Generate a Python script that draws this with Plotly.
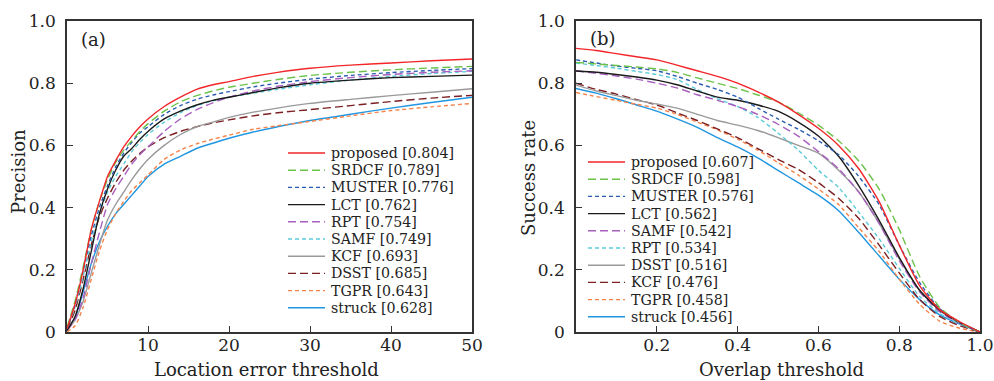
import plotly.graph_objects as go

# ---------------- data: panel (a) precision plot ----------------
x_loc = [0, 1, 2, 3, 4, 5, 6, 7, 8, 9, 10, 12, 14, 16, 18, 20, 23, 26, 30, 35, 40, 45, 50]

names_a = ["proposed", "SRDCF", "MUSTER", "LCT", "RPT", "SAMF", "KCF", "DSST", "TGPR", "struck"]
scores_a = ["0.804", "0.789", "0.776", "0.762", "0.754", "0.749", "0.693", "0.685", "0.643", "0.628"]

prec_proposed = [0.01, 0.09, 0.20, 0.33, 0.42, 0.50, 0.55, 0.595, 0.63, 0.66, 0.685, 0.725, 0.755, 0.78, 0.795, 0.805, 0.822, 0.835, 0.848, 0.858, 0.865, 0.872, 0.878]
prec_srdcf = [0.015, 0.10, 0.21, 0.33, 0.42, 0.49, 0.545, 0.585, 0.615, 0.645, 0.67, 0.71, 0.74, 0.76, 0.775, 0.787, 0.80, 0.812, 0.825, 0.835, 0.843, 0.849, 0.854]
prec_muster = [0.01, 0.09, 0.20, 0.31, 0.40, 0.47, 0.53, 0.575, 0.61, 0.64, 0.66, 0.70, 0.728, 0.748, 0.762, 0.773, 0.788, 0.80, 0.813, 0.825, 0.834, 0.841, 0.847]
prec_lct = [0.005, 0.05, 0.14, 0.26, 0.38, 0.46, 0.52, 0.565, 0.59, 0.62, 0.645, 0.685, 0.71, 0.73, 0.745, 0.755, 0.77, 0.785, 0.80, 0.81, 0.818, 0.822, 0.826]
prec_rpt = [0.005, 0.04, 0.11, 0.22, 0.32, 0.41, 0.46, 0.50, 0.54, 0.57, 0.595, 0.645, 0.685, 0.715, 0.737, 0.755, 0.775, 0.79, 0.805, 0.818, 0.828, 0.835, 0.840]
prec_samf = [0.01, 0.08, 0.18, 0.29, 0.38, 0.45, 0.50, 0.54, 0.58, 0.61, 0.635, 0.675, 0.705, 0.728, 0.743, 0.755, 0.768, 0.78, 0.795, 0.81, 0.822, 0.831, 0.838]
prec_kcf = [0.005, 0.04, 0.10, 0.19, 0.28, 0.36, 0.41, 0.45, 0.49, 0.525, 0.555, 0.60, 0.635, 0.66, 0.675, 0.69, 0.707, 0.72, 0.735, 0.748, 0.76, 0.771, 0.782]
prec_dsst = [0.01, 0.07, 0.17, 0.28, 0.37, 0.43, 0.48, 0.52, 0.55, 0.575, 0.595, 0.625, 0.645, 0.66, 0.672, 0.682, 0.695, 0.705, 0.715, 0.728, 0.741, 0.752, 0.761]
prec_tgpr = [0.0, 0.02, 0.08, 0.17, 0.26, 0.33, 0.38, 0.42, 0.455, 0.48, 0.505, 0.555, 0.585, 0.605, 0.62, 0.633, 0.652, 0.663, 0.677, 0.695, 0.712, 0.724, 0.735]
prec_struck = [0.005, 0.045, 0.13, 0.22, 0.29, 0.34, 0.38, 0.41, 0.44, 0.47, 0.50, 0.54, 0.565, 0.59, 0.607, 0.623, 0.643, 0.66, 0.68, 0.70, 0.72, 0.738, 0.755]

# ---------------- data: panel (b) success plot ----------------
x_ovl = [0.0, 0.05, 0.1, 0.15, 0.2, 0.25, 0.3, 0.35, 0.4, 0.45, 0.5, 0.55, 0.6, 0.65, 0.7, 0.75, 0.8, 0.85, 0.9, 0.95, 1.0]

names_b = ["proposed", "SRDCF", "MUSTER", "LCT", "SAMF", "RPT", "DSST", "KCF", "TGPR", "struck"]
scores_b = ["0.607", "0.598", "0.576", "0.562", "0.542", "0.534", "0.516", "0.476", "0.458", "0.456"]

succ_proposed = [0.912, 0.905, 0.895, 0.885, 0.875, 0.858, 0.84, 0.822, 0.80, 0.772, 0.74, 0.70, 0.655, 0.60, 0.525, 0.42, 0.28, 0.15, 0.072, 0.033, 0.0]
succ_srdcf = [0.867, 0.862, 0.857, 0.852, 0.846, 0.835, 0.817, 0.80, 0.783, 0.762, 0.74, 0.705, 0.665, 0.615, 0.55, 0.46, 0.33, 0.18, 0.08, 0.03, 0.0]
succ_muster = [0.875, 0.865, 0.855, 0.848, 0.84, 0.822, 0.80, 0.78, 0.755, 0.72, 0.685, 0.652, 0.615, 0.57, 0.50, 0.41, 0.28, 0.16, 0.075, 0.03, 0.0]
succ_lct = [0.839, 0.835, 0.828, 0.82, 0.81, 0.795, 0.775, 0.755, 0.745, 0.73, 0.71, 0.675, 0.63, 0.565, 0.47, 0.36, 0.24, 0.135, 0.07, 0.03, 0.0]
succ_samf = [0.84, 0.832, 0.823, 0.813, 0.80, 0.785, 0.763, 0.745, 0.725, 0.70, 0.668, 0.63, 0.58, 0.525, 0.45, 0.35, 0.23, 0.13, 0.065, 0.028, 0.0]
succ_rpt = [0.865, 0.857, 0.848, 0.838, 0.828, 0.812, 0.78, 0.75, 0.725, 0.69, 0.64, 0.585, 0.52, 0.465, 0.385, 0.30, 0.205, 0.115, 0.06, 0.025, 0.0]
succ_dsst = [0.794, 0.775, 0.76, 0.745, 0.733, 0.72, 0.70, 0.68, 0.665, 0.648, 0.625, 0.60, 0.575, 0.52, 0.45, 0.35, 0.235, 0.135, 0.075, 0.03, 0.0]
succ_kcf = [0.80, 0.78, 0.765, 0.747, 0.73, 0.705, 0.68, 0.653, 0.625, 0.59, 0.555, 0.523, 0.48, 0.43, 0.365, 0.28, 0.19, 0.105, 0.05, 0.02, 0.0]
succ_tgpr = [0.77, 0.757, 0.745, 0.732, 0.72, 0.70, 0.675, 0.65, 0.62, 0.585, 0.545, 0.505, 0.46, 0.41, 0.335, 0.26, 0.17, 0.09, 0.035, 0.012, 0.0]
succ_struck = [0.783, 0.768, 0.75, 0.73, 0.71, 0.685, 0.658, 0.625, 0.595, 0.56, 0.52, 0.48, 0.44, 0.39, 0.32, 0.245, 0.17, 0.105, 0.055, 0.025, 0.0]

y_tickvals = [0, 0.2, 0.4, 0.6, 0.8, 1.0]
y_ticktext = ["0", "0.2", "0.4", "0.6", "0.8", "1.0"]
xa_tickvals = [10, 20, 30, 40, 50]
xb_tickvals = [0.2, 0.4, 0.6, 0.8, 1.0]
xb_ticktext = ["0.2", "0.4", "0.6", "0.8", "1.0"]

title_xa = "Location error threshold"
title_ya = "Precision"
title_xb = "Overlap threshold"
title_yb = "Success rate"

# ---------------- styles (by rank in each legend) ----------------
styles = [
    ("#f2262a", "solid"),
    ("#6cc24a", "8px,4px"),
    ("#2a5db0", "4px,3px"),
    ("#1a1a1a", "solid"),
    ("#a95fbf", "8px,4px"),
    ("#5ccbd8", "4px,3px"),
    ("#9a9a9a", "solid"),
    ("#7b1f22", "8px,4px"),
    ("#f5834a", "4px,3px"),
    ("#2196e0", "solid"),
]

prec_series = [prec_proposed, prec_srdcf, prec_muster, prec_lct, prec_rpt,
               prec_samf, prec_kcf, prec_dsst, prec_tgpr, prec_struck]
succ_series = [succ_proposed, succ_srdcf, succ_muster, succ_lct, succ_samf,
               succ_rpt, succ_dsst, succ_kcf, succ_tgpr, succ_struck]

FONT = "DejaVu Serif"
TXT = "#222222"
W, H = 994, 381
TOP, BOTTOM = 21, 332   # plot area in pixels
LW = 1.4

fig = go.Figure()

for i in reversed(range(10)):
    col, dash = styles[i]
    fig.add_trace(go.Scatter(x=x_loc, y=prec_series[i], mode="lines", name=names_a[i],
                             line=dict(color=col, dash=dash, width=LW, shape="spline", smoothing=0.6),
                             xaxis="x", yaxis="y", showlegend=False))
for i in reversed(range(10)):
    col, dash = styles[i]
    fig.add_trace(go.Scatter(x=x_ovl, y=succ_series[i], mode="lines", name=names_b[i],
                             line=dict(color=col, dash=dash, width=LW, shape="spline", smoothing=0.6),
                             xaxis="x2", yaxis="y2", showlegend=False))

axis_common = dict(showline=True, linecolor="#333333", linewidth=1.5, mirror=True,
                   ticks="inside", ticklen=6, tickcolor="#333333", tickwidth=1.2,
                   showgrid=False, zeroline=False,
                   tickfont=dict(family=FONT, size=17, color=TXT))

fig.update_layout(
    width=W, height=H,
    margin=dict(l=0, r=0, t=TOP, b=H - BOTTOM, autoexpand=False),
    paper_bgcolor="white", plot_bgcolor="white",
    xaxis=dict(domain=[67 / W, 472 / W], range=[0, 50], tickvals=xa_tickvals,
               ticklabelstandoff=-3, anchor="y", **axis_common),
    yaxis=dict(domain=[0, 1], range=[0, 1], tickvals=y_tickvals, ticktext=y_ticktext,
               ticklabelstandoff=6, anchor="x", **axis_common),
    xaxis2=dict(domain=[576 / W, 980 / W], range=[0, 1], tickvals=xb_tickvals, ticktext=xb_ticktext,
                ticklabelstandoff=-3, anchor="y2", **axis_common),
    yaxis2=dict(domain=[0, 1], range=[0, 1], tickvals=y_tickvals, ticktext=y_ticktext,
                ticklabelstandoff=6, anchor="x2", **axis_common),
    showlegend=False,
)


def px_x(px):
    return px / W


def px_y(py):
    return (BOTTOM - py) / (BOTTOM - TOP)


shapes = []
annotations = []


def add_text(text, x, y, size, xanchor="center", angle=0):
    annotations.append(dict(text=text, x=px_x(x), y=px_y(y), xref="paper", yref="paper",
                            xanchor=xanchor, yanchor="middle", showarrow=False, textangle=angle,
                            font=dict(family=FONT, size=size, color=TXT)))


# axis titles
add_text(title_xa, 266, 369, 18)
add_text(title_ya, 18, 172, 18, angle=-90)
add_text(title_xb, 781, 369, 18)
add_text(title_yb, 528, 178, 18, angle=-90)

# panel labels
add_text("(a)", 79, 40, 18, xanchor="left")
add_text("(b)", 588, 38, 18, xanchor="left")


# custom compact legends
def add_legend(names, scores, x_line0, x_line1, x_text, y_first, step):
    for i, (nm, sc) in enumerate(zip(names, scores)):
        col, dash = styles[i]
        yy = y_first + i * step
        shapes.append(dict(type="line", xref="paper", yref="paper",
                           x0=px_x(x_line0), x1=px_x(x_line1), y0=px_y(yy), y1=px_y(yy),
                           line=dict(color=col, width=LW, dash=dash)))
        add_text(f"{nm} [{sc}]", x_text, yy, 14.2, xanchor="left")


add_legend(names_a, scores_a, 288, 325, 329, 153, 17.2)
add_legend(names_b, scores_b, 588, 625, 629, 162, 17.2)

fig.update_layout(shapes=shapes, annotations=annotations)

fig.write_html("out.html")
